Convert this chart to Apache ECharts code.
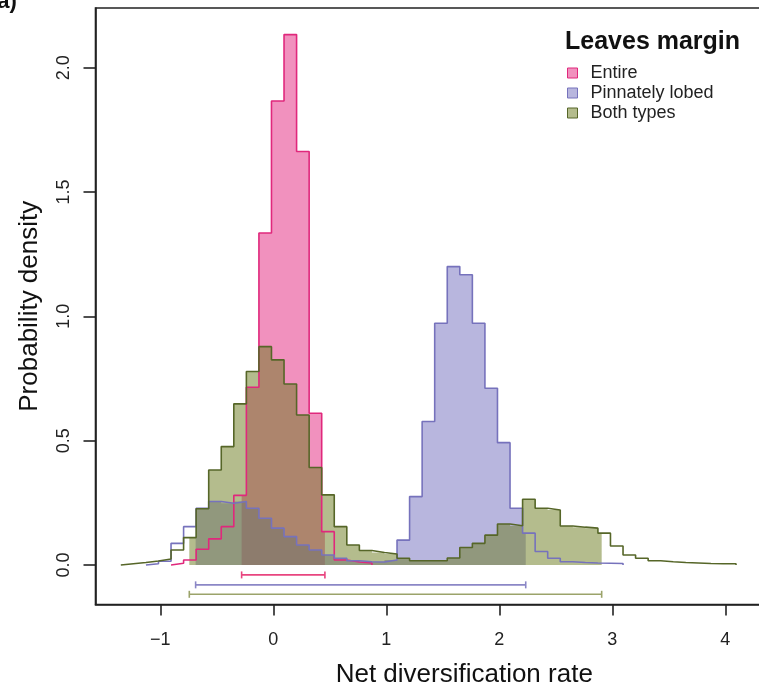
<!DOCTYPE html>
<html>
<head>
<meta charset="utf-8">
<script src="https://cdn.jsdelivr.net/npm/echarts@6/dist/echarts.min.js"></script>
<style>
  html, body { margin: 0; padding: 0; background: #fff; }
  #chart { width: 759px; height: 686px; }
</style>
</head>
<body>
<div id="chart"></div>
<script>
// Shared histogram bins (left edge of bin 0 and bin width, in rate units)
const binFirstEdge = -1.349;
const binWidth = 0.1111;

// Posterior densities per bin; *Start = index of the first occupied bin
const entireStart = 4;
const entireDensity = [0.007, 0.02, 0.063, 0.105, 0.154, 0.28, 0.715, 1.335, 1.866, 2.133,
  1.663, 0.61, 0.134, 0.02, 0.012, 0.008];

const lobedStart = 2;
const lobedDensity = [0.005, 0.015, 0.087, 0.154, 0.228, 0.255, 0.248, 0.255, 0.228, 0.188,
  0.148, 0.114, 0.08, 0.06, 0.04, 0.027, 0.017, 0.013, 0.012, 0.02,
  0.1, 0.275, 0.577, 0.972, 1.2, 1.167, 0.972, 0.711, 0.492, 0.228,
  0.128, 0.054, 0.027, 0.013, 0.01, 0.008, 0.007, 0.006];

const bothStart = 0;
const bothDensity = [0.005, 0.01, 0.016, 0.024, 0.06, 0.11, 0.226, 0.382, 0.476, 0.648,
  0.778, 0.878, 0.825, 0.728, 0.603, 0.392, 0.282, 0.154, 0.08, 0.058,
  0.05, 0.044, 0.027, 0.017, 0.017, 0.017, 0.028, 0.07, 0.087, 0.12,
  0.165, 0.158, 0.264, 0.228, 0.221, 0.157, 0.152, 0.148, 0.128, 0.076,
  0.04, 0.027, 0.017, 0.013, 0.01, 0.008, 0.006, 0.005, 0.005];

// 95% HPD intervals and the height at which each interval bar is drawn
const entireHpd = [-0.28, 0.457];
const lobedHpd = [-0.687, 2.234];
const bothHpd = [-0.743, 2.906];
const hpdLevels = [-0.04, -0.08, -0.118];

const xTickValues = [-1, 0, 1, 2, 3, 4, 5];
const yTickValues = [0, 0.5, 1, 1.5, 2];

// Drawing order: Entire at the bottom, Both types on top
const groups = [
  { name: 'Entire', start: entireStart, dens: entireDensity, hpd: entireHpd, level: hpdLevels[0],
    line: '#e0287c', fill: 'rgba(228,36,126,0.5)', bar: '#e8457f' },
  { name: 'Pinnately lobed', start: lobedStart, dens: lobedDensity, hpd: lobedHpd, level: hpdLevels[1],
    line: '#7672bc', fill: 'rgba(113,109,189,0.5)', bar: '#8b87c6' },
  { name: 'Both types', start: bothStart, dens: bothDensity, hpd: bothHpd, level: hpdLevels[2],
    line: '#566628', fill: 'rgba(105,121,28,0.5)', bar: '#9ba36a' }
];

const edge = i => binFirstEdge + i * binWidth;

// Step outline of one histogram
function outlinePoints(g) {
  const pts = [[edge(g.start), 0]];
  g.dens.forEach((d, j) => pts.push([edge(g.start + j), d]));
  const last = g.start + g.dens.length;
  pts.push([edge(last), g.dens[g.dens.length - 1]]);
  pts.push([edge(last), 0]);
  return pts;
}

// Density at x (0 outside the histogram)
function densAt(g, x) {
  const j = Math.floor((x - edge(g.start)) / binWidth);
  return (j >= 0 && j < g.dens.length) ? g.dens[j] : 0;
}

// Shaded area restricted to the HPD interval, as a polygon in data units
function shadePolygon(g) {
  const [lo, hi] = g.hpd;
  const pts = [[lo, 0], [lo, densAt(g, lo)]];
  for (let j = 0; j <= g.dens.length; j++) {
    const e = edge(g.start + j);
    if (e > lo && e < hi) {
      pts.push([e, densAt(g, e - 1e-9)]);
      pts.push([e, densAt(g, e + 1e-9)]);
    }
  }
  pts.push([hi, densAt(g, hi - 1e-9)]);
  pts.push([hi, 0]);
  return pts;
}

const series = [];

// Shaded HPD areas (semi-transparent, stacked in drawing order)
groups.forEach((g, i) => {
  const poly = shadePolygon(g);
  series.push({
    type: 'custom',
    name: g.name + ' area',
    silent: true,
    z: 2 + i * 0.1,
    data: [g.hpd],
    encode: { x: [0, 1] },
    renderItem: function (params, api) {
      return {
        type: 'polygon',
        shape: { points: poly.map(p => api.coord(p)) },
        style: { fill: g.fill }
      };
    }
  });
});

// Histogram outlines
groups.forEach((g, i) => {
  series.push({
    type: 'line',
    name: g.name,
    step: 'end',
    data: outlinePoints(g),
    showSymbol: false,
    symbol: 'none',
    lineStyle: { color: g.line, width: 1.6 },
    itemStyle: { color: g.fill, borderColor: g.line, borderWidth: 1 },
    z: 4 + i * 0.1,
    silent: true
  });
});

// HPD interval bars below the histograms
groups.forEach(g => {
  series.push({
    type: 'line',
    name: g.name + ' HPD',
    data: [[g.hpd[0], g.level], [g.hpd[1], g.level]],
    symbol: 'rect',
    symbolSize: [1.6, 7],
    showSymbol: true,
    itemStyle: { color: g.bar },
    lineStyle: { color: g.bar, width: 1.6 },
    z: 4,
    silent: true
  });
});

const fmtX = v => (v < 0 ? '\u2212' + Math.abs(v) : String(v));

const option = {
  backgroundColor: '#ffffff',
  animation: false,
  grid: {
    left: 95.5, top: 8, width: 737.5, height: 596.5,
    containLabel: false, outerBoundsMode: 'none',
    show: true, borderColor: '#222', borderWidth: 1.6, backgroundColor: 'transparent'
  },
  xAxis: {
    type: 'value',
    min: -1.573,
    max: 4.953,
    name: 'Net diversification rate',
    nameLocation: 'middle',
    nameGap: 57,
    nameTextStyle: { fontFamily: 'Liberation Sans', fontSize: 26, color: '#111' },
    axisLine: { show: true, onZero: false, lineStyle: { color: '#222', width: 1.6 } },
    axisTick: { show: true, length: 11, customValues: xTickValues, lineStyle: { color: '#222', width: 1.6 } },
    axisLabel: { customValues: xTickValues, formatter: fmtX, margin: 27, fontFamily: 'Liberation Sans', fontSize: 18, color: '#222' },
    splitLine: { show: false }
  },
  yAxis: {
    type: 'value',
    min: -0.159,
    max: 2.24,
    name: 'Probability density',
    nameLocation: 'middle',
    nameGap: 53,
    nameTextStyle: { fontFamily: 'Liberation Sans', fontSize: 26, color: '#111' },
    axisLine: { show: true, onZero: false, lineStyle: { color: '#222', width: 1.6 } },
    axisTick: { show: true, length: 12, customValues: yTickValues, lineStyle: { color: '#222', width: 1.6 } },
    axisLabel: { customValues: yTickValues, rotate: 90, formatter: v => v.toFixed(1), margin: 22, fontFamily: 'Liberation Sans', fontSize: 18, color: '#222' },
    splitLine: { show: false }
  },
  legend: {
    orient: 'vertical',
    left: 562,
    top: 59,
    itemWidth: 10,
    itemHeight: 10,
    itemGap: 2,
    icon: 'rect',
    textStyle: { fontFamily: 'Liberation Sans', fontSize: 18, lineHeight: 15, color: '#222', padding: [0, 0, 0, 8] },
    data: groups.map(g => ({ name: g.name, itemStyle: { color: g.fill, borderColor: g.line, borderWidth: 1 } }))
  },
  graphic: [
    { type: 'text', left: 565, top: 30, style: { text: 'Leaves margin', fontFamily: 'Liberation Sans', fontWeight: 'bold', fontSize: 25, fill: '#111' } },
    { type: 'text', left: -10, top: -9, style: { text: '(a)', fontFamily: 'Liberation Sans', fontWeight: 'bold', fontSize: 22, fill: '#111' } }
  ],
  series: series
};

const chart = echarts.init(document.getElementById('chart'), null, { renderer: 'canvas' });
chart.setOption(option);
</script>
</body>
</html>
